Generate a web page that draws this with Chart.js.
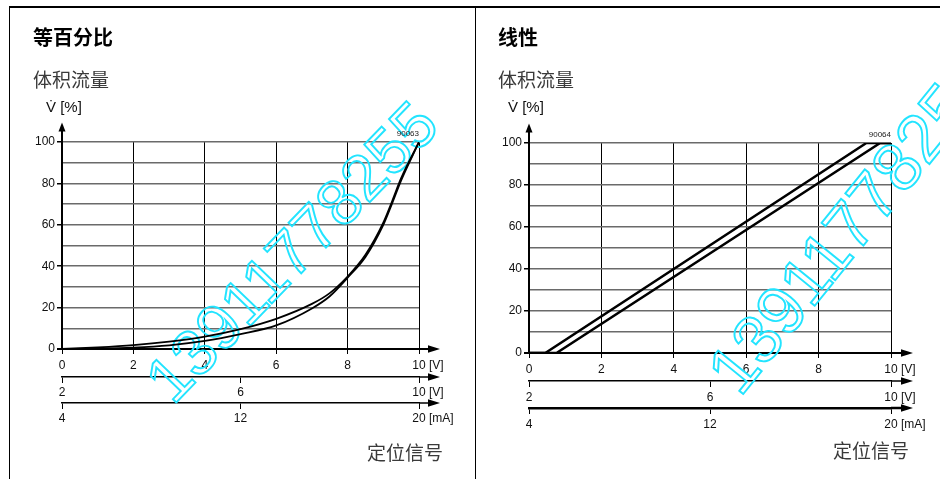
<!DOCTYPE html>
<html>
<head>
<meta charset="utf-8">
<script src="https://cdn.jsdelivr.net/npm/chart.js@4.4.0/dist/chart.umd.min.js"></script>
<style>
  body { margin:0; background:#fff; width:940px; height:479px; overflow:hidden; position:relative;
         font-family:"Liberation Sans", Arial, sans-serif; }
  .line { position:absolute; background:#000; }
  .t { position:absolute; white-space:nowrap; line-height:20px; font-family:"Noto Sans CJK SC", sans-serif; }
  .title { font-size:20px; font-weight:bold; color:#000; }
  .sub { font-size:19px; color:#3a3a3a; }
  .unit { font-family:"Liberation Sans", Arial, sans-serif; font-size:15px; color:#111; }
  canvas { position:absolute; top:0; }
</style>
</head>
<body>
<div class="line" style="left:9px;top:6px;width:931px;height:2px"></div>
<div class="line" style="left:9px;top:6px;width:1px;height:473px"></div>
<div class="line" style="left:475px;top:6px;width:1px;height:473px"></div>

<canvas id="eq" width="470" height="479" style="left:0"></canvas>
<canvas id="lin" width="464" height="479" style="left:476px"></canvas>

<div class="t title" style="left:33px;top:27px">等百分比</div>
<div class="t sub" style="left:33px;top:69px">体积流量</div>
<div class="t unit" style="left:46px;top:97px">V&#775; [%]</div>
<div class="t sub" style="left:367px;top:442px">定位信号</div>

<div class="t title" style="left:498px;top:27px">线性</div>
<div class="t sub" style="left:498px;top:69px">体积流量</div>
<div class="t unit" style="left:508px;top:97px">V&#775; [%]</div>
<div class="t sub" style="left:833px;top:440px">定位信号</div>

<script>
// equal-percentage characteristic, two curves (hysteresis band)
const eqX     = [0, 1, 2, 3, 4, 5, 6, 7, 7.5, 8, 8.5, 9, 9.25, 9.5, 10];
const eqUpper = [0, 0.8, 1.9, 3.6, 6.0, 9.6, 14.6, 21.8, 27, 35, 45.5, 61, 71.5, 82.5, 100];
const eqLower = [0, 0.2, 0.7, 1.8, 3.9, 7.2, 11.4, 19.6, 25.5, 34.5, 44.5, 60, 70.5, 81.5, 100];

// linear characteristic
const linUpperX = [0, 0.45, 9.32, 10];
const linUpper  = [0, 0, 100, 100];
const linLowerX = [0, 0.76, 9.7, 10];
const linLower  = [0, 0, 100, 100];

// axes
const yTicks     = [0, 10, 20, 30, 40, 50, 60, 70, 80, 90, 100];
const voltTicks  = [0, 2, 4, 6, 8, 10];
const volt2Ticks = [2, 6, 10];
const mATicks    = [4, 12, 20];
const unitLabels = ['[V]', '[V]', '[mA]'];
const watermark  = '13911778255';

Chart.defaults.font.family = '"Liberation Sans", Arial, sans-serif';
Chart.defaults.font.size = 12;
Chart.defaults.color = '#111';

const pts = (xs, ys) => xs.map((x, i) => ({ x: x, y: ys[i] }));

const decor = {
  id: 'decor',
  beforeDatasetsDraw(chart, args, o) {
    const ctx = chart.ctx;
    ctx.save();
    ctx.translate(o.wm.x, o.wm.y);
    ctx.rotate(o.wm.angle * Math.PI / 180);
    ctx.font = o.wm.size + 'px "Liberation Sans"';
    ctx.lineWidth = 1.9;
    ctx.strokeStyle = '#22e4ff';
    ctx.strokeText(watermark, 0, 0);
    ctx.restore();
  },
  afterDraw(chart, args, o) {
    const ctx = chart.ctx, a = chart.chartArea;
    ctx.save();
    ctx.fillStyle = '#000';
    ctx.strokeStyle = '#000';
    ctx.lineWidth = 2;
    // y arrow
    ctx.beginPath(); ctx.moveTo(a.left, a.top); ctx.lineTo(a.left, a.top - 11); ctx.stroke();
    ctx.beginPath();
    ctx.moveTo(a.left, a.top - 19.5);
    ctx.lineTo(a.left - 3.5, a.top - 10.5);
    ctx.lineTo(a.left + 3.5, a.top - 10.5);
    ctx.closePath(); ctx.fill();
    // x arrows + units
    ['x', 'x2', 'x3'].forEach((id, i) => {
      const s = chart.scales[id];
      const y = s.top;
      ctx.lineWidth = s.options.border.width;
      ctx.beginPath(); ctx.moveTo(a.right, y); ctx.lineTo(a.right + o.arrow - 11, y); ctx.stroke();
      ctx.beginPath();
      ctx.moveTo(a.right + o.arrow, y);
      ctx.lineTo(a.right + o.arrow - 12, y - 3.8);
      ctx.lineTo(a.right + o.arrow - 12, y + 3.8);
      ctx.closePath(); ctx.fill();
      ctx.font = '12px "Liberation Sans"';
      ctx.fillStyle = '#111';
      ctx.textBaseline = 'middle';
      ctx.textAlign = 'left';
      const last = String(s.max);
      const ly = s.top + s.options.grid.tickLength + s.options.ticks.padding + 7.2;
      const lx = s.getPixelForValue(s.max) + ctx.measureText(last).width / 2 + ctx.measureText(' ').width;
      ctx.fillText(unitLabels[i], lx, ly);
      ctx.fillStyle = '#000';
    });
    // drawing number
    ctx.font = '8px "Liberation Sans"';
    ctx.fillStyle = '#222';
    ctx.textAlign = 'right';
    ctx.textBaseline = 'alphabetic';
    ctx.fillText(o.code, a.right, a.top - 6.5);
    ctx.restore();
  }
};

function axes(p) {
  const setTicks = arr => s => { s.ticks = arr.map(v => ({ value: v })); };
  const bottom = (min, max, arr, h, pad, tl, bw, weight, onArea) => ({
    type: 'linear', position: 'bottom', weight: weight, min: min, max: max,
    afterBuildTicks: setTicks(arr),
    afterFit: s => { s.height = h; },
    grid: { drawOnChartArea: onArea, color: '#000', lineWidth: 1, tickLength: tl, tickColor: '#000', tickWidth: 1 },
    border: { color: '#000', width: bw },
    ticks: { padding: pad, autoSkip: false, maxRotation: 0 }
  });
  return {
    x:  bottom(0, 10, voltTicks, p.h[0], p.pad[0], 5, 2, 0, true),
    x2: bottom(2, 10, volt2Ticks, p.h[1], p.pad[1], 6, 1.5, 1, false),
    x3: bottom(4, 20, mATicks, p.h[2], p.pad[2], 6, p.bw3, 2, false),
    y: {
      type: 'linear', position: 'left', min: 0, max: 100,
      afterBuildTicks: setTicks(yTicks),
      afterFit: s => { s.width = 30; },
      grid: {
        color: c => (c.tick && c.tick.value === 0) ? '#000' : '#6a6a6a',
        lineWidth: c => (c.tick && c.tick.value === 0) ? 2 : 1.5,
        tickLength: 5,
        tickColor: c => (c.tick && c.tick.value % 20 === 0) ? '#000' : 'rgba(0,0,0,0)'
      },
      border: { color: '#000', width: 2 },
      ticks: { padding: 2, autoSkip: false, callback: v => (v % 20 === 0 ? v : '') }
    }
  };
}

function line(data, smooth, w) {
  return {
    data: data, borderColor: '#000', borderWidth: w, pointRadius: 0, fill: false,
    cubicInterpolationMode: smooth ? 'monotone' : 'default', tension: 0,
    xAxisID: 'x', yAxisID: 'y'
  };
}

new Chart(document.getElementById('eq'), {
  type: 'line',
  data: { datasets: [line(pts(eqX, eqUpper), true, 1.8), line(pts(eqX, eqLower), true, 1.8)] },
  options: {
    responsive: false, animation: false,
    layout: { padding: { top: 142, left: 32, right: 51, bottom: 46 } },
    scales: axes({ h: [28, 26, 30], pad: [4, 2, 2], bw3: 1.5 }),
    plugins: {
      legend: { display: false }, tooltip: { enabled: false },
      decor: { code: '90063', arrow: 21, wm: { x: 173, y: 406, angle: -46, size: 64 } }
    }
  },
  plugins: [decor]
});

new Chart(document.getElementById('lin'), {
  type: 'line',
  data: { datasets: [line(pts(linUpperX, linUpper), false, 2.5), line(pts(linLowerX, linLower), false, 2.5)] },
  options: {
    responsive: false, animation: false,
    layout: { padding: { top: 143, left: 23, right: 49, bottom: 41 } },
    scales: axes({ h: [28, 27, 30], pad: [4, 3, 3], bw3: 2.5 }),
    plugins: {
      legend: { display: false }, tooltip: { enabled: false },
      decor: { code: '90064', arrow: 22, wm: { x: 740 - 476, y: 398, angle: -51, size: 68 } }
    }
  },
  plugins: [decor]
});
</script>
</body>
</html>
